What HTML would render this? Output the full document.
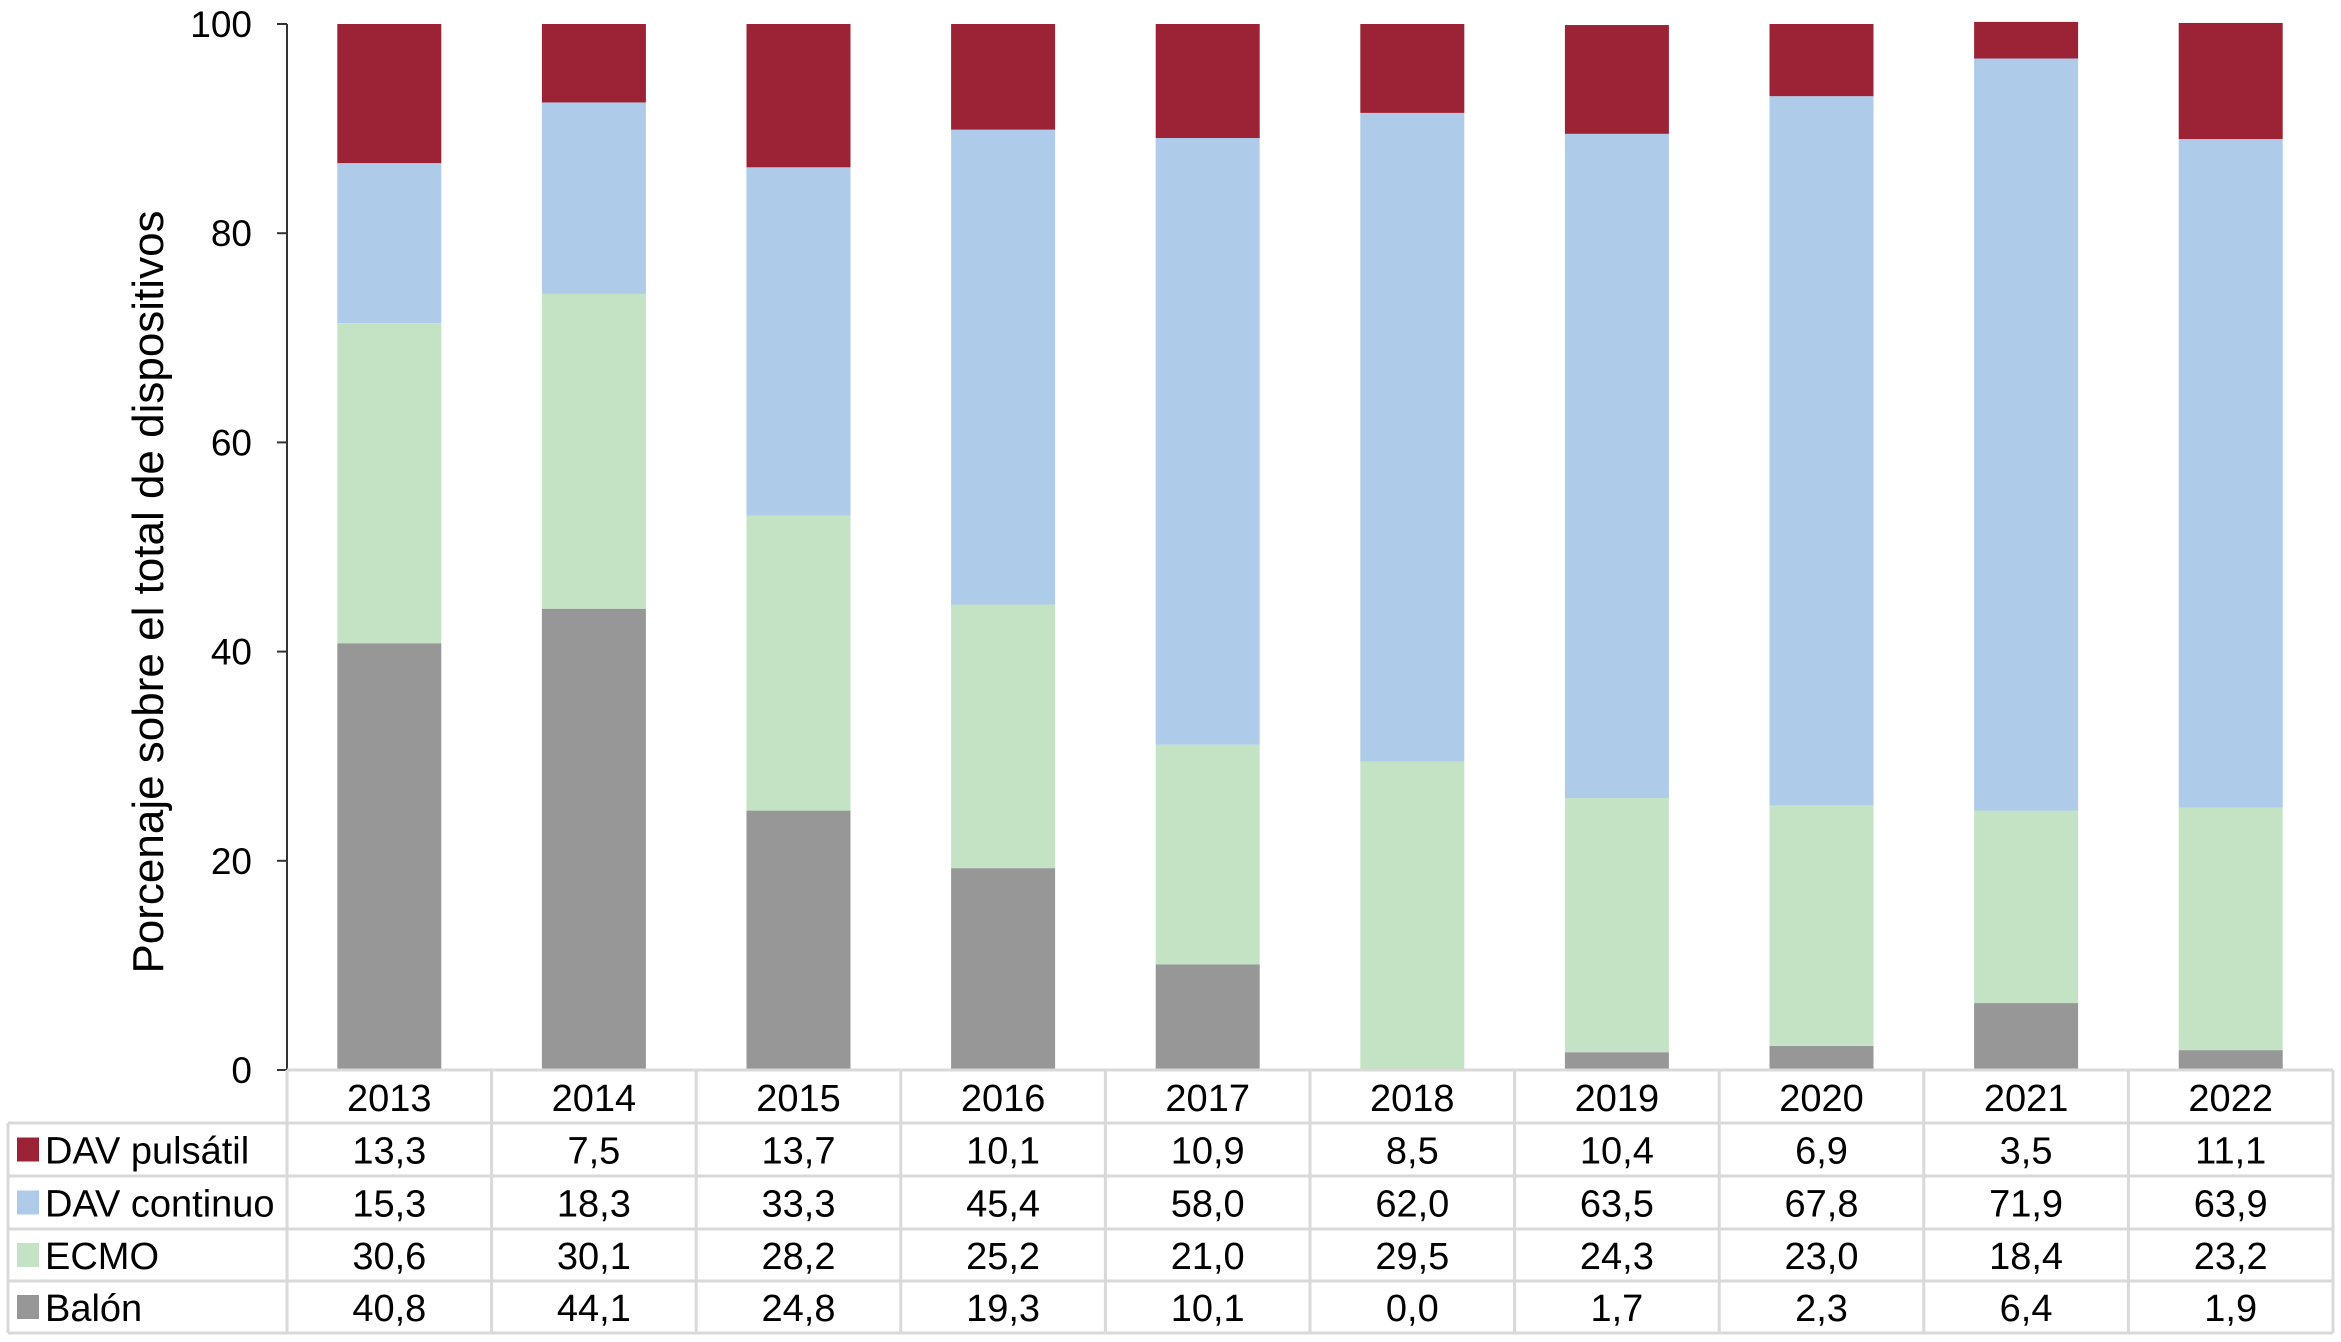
<!DOCTYPE html>
<html><head><meta charset="utf-8"><style>
html,body{margin:0;padding:0;background:#fff;}
svg{display:block;font-family:"Liberation Sans",Arial,sans-serif;}
</style></head><body>
<svg id="chart" width="2341" height="1342" viewBox="0 0 2341 1342" xmlns="http://www.w3.org/2000/svg"></svg>
<script>
const years = ["2013","2014","2015","2016","2017","2018","2019","2020","2021","2022"];
const seriesNames = ["DAV pulsátil","DAV continuo","ECMO","Balón"];
const pulsatil = [13.3,7.5,13.7,10.1,10.9,8.5,10.4,6.9,3.5,11.1];
const continuo = [15.3,18.3,33.3,45.4,58.0,62.0,63.5,67.8,71.9,63.9];
const ecmo = [30.6,30.1,28.2,25.2,21.0,29.5,24.3,23.0,18.4,23.2];
const balon = [40.8,44.1,24.8,19.3,10.1,0.0,1.7,2.3,6.4,1.9];
const yTicks = [0,20,40,60,80,100];

const svg = document.getElementById('chart');
const NS = "http://www.w3.org/2000/svg";
const plotLeft = 287, plotRight = 2333, yTop = 24, yBottom = 1070;
const colW = (plotRight - plotLeft) / years.length;
const barW = 104;
const colors = ["#9c2336","#aecbea","#c3e3c4","#979797"];
const stackOrder = [balon, ecmo, continuo, pulsatil];
const stackColors = [colors[3], colors[2], colors[1], colors[0]];
const stackNames = ["balon","ecmo","dav-continuo","dav-pulsatil"];
function yScale(v){ return yBottom - (v/100)*(yBottom - yTop); }
function xCenter(i){ return plotLeft + colW*(i+0.5); }
function mk(tag, attrs, parent){ const e=document.createElementNS(NS,tag); for(const k in attrs) e.setAttribute(k,attrs[k]); (parent||svg).appendChild(e); return e; }
const fmt = v => v.toFixed(1).replace('.',',');

years.forEach((y,i)=>{
  let acc = 0;
  stackOrder.forEach((arr,s)=>{
    const v = arr[i];
    const r = mk('rect',{x:xCenter(i)-barW/2, y:yScale(acc+v), width:barW, height:Math.max(0,yScale(acc)-yScale(acc+v)), fill:stackColors[s]});
    
    
    acc += v;
  });
});

const ax = mk('line',{x1:plotLeft,y1:yTop,x2:plotLeft,y2:yBottom,stroke:"#333","stroke-width":2});


yTicks.forEach(t=>{
  const ty = yScale(t);
  mk('line',{x1:plotLeft-10,y1:ty,x2:plotLeft,y2:ty,stroke:"#333","stroke-width":2});
  const tx = mk('text',{x:252,y:ty+13,"text-anchor":"end","font-size":37,fill:"#000"});
  tx.textContent = t;
  
  
});
const yt = mk('text',{x:0,y:0,"text-anchor":"middle","font-size":44,fill:"#000",transform:"translate(163,592) rotate(-90)"});
yt.textContent = "Porcenaje sobre el total de dispositivos";



const rowY = [1070,1123,1176,1229,1281,1333];
const grid = "#d9d9d9";
rowY.forEach((ry,k)=>{
  mk('line',{x1:k===0?plotLeft:8,y1:ry,x2:plotRight,y2:ry,stroke:grid,"stroke-width":3});
});
mk('line',{x1:8,y1:1123,x2:8,y2:1333,stroke:grid,"stroke-width":3});
for(let i=0;i<=years.length;i++){
  const x = plotLeft + colW*i;
  mk('line',{x1:x,y1:1070,x2:x,y2:1333,stroke:grid,"stroke-width":3});
}
years.forEach((y,i)=>{
  const t = mk('text',{x:xCenter(i),y:1111,"text-anchor":"middle","font-size":38,fill:"#000"});
  t.textContent = y;
  
  
});
const tableSeries = [pulsatil, continuo, ecmo, balon];
tableSeries.forEach((arr,s)=>{
  const top = rowY[s+1], bot = rowY[s+2];
  const cy = (top+bot)/2;
  const sw = mk('rect',{x:17,y:cy-12,width:22,height:24,fill:colors[s]});
  
  
  const lab = mk('text',{x:45,y:cy+14,"font-size":38,fill:"#000"});
  lab.textContent = seriesNames[s];
  
  
  arr.forEach((v,i)=>{
    const c = mk('text',{x:xCenter(i),y:cy+14,"text-anchor":"middle","font-size":38,fill:"#000"});
    c.textContent = fmt(v);
    
    
  });
});
</script>
</body></html>
